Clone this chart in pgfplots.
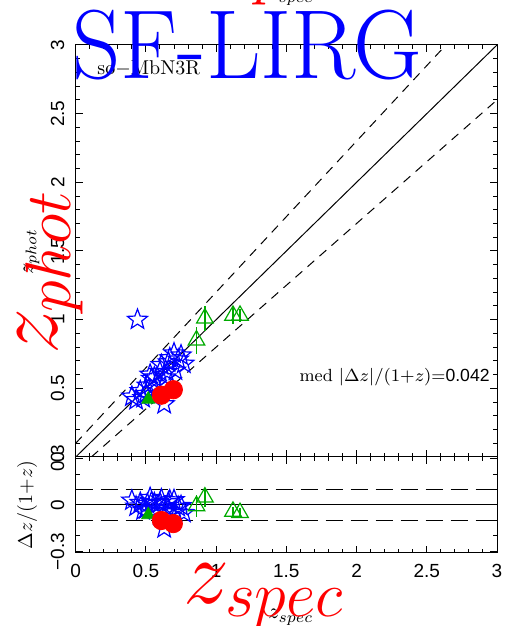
\RequirePackage{fix-cm}
\documentclass[border=0pt]{standalone}
\usepackage{fontspec}
\setsansfont{Liberation Sans}
\usepackage{pgfplots}
\pgfplotsset{compat=1.18}
\usetikzlibrary{plotmarks}
\definecolor{smgreen}{RGB}{0,170,0}
\pgfdeclareplotmark{ostar}{%
  \pgfpathmoveto{\pgfpointpolar{90}{\pgfplotmarksize}}%
  \pgfpathlineto{\pgfpointpolar{126}{0.42\pgfplotmarksize}}%
  \pgfpathlineto{\pgfpointpolar{162}{\pgfplotmarksize}}%
  \pgfpathlineto{\pgfpointpolar{198}{0.42\pgfplotmarksize}}%
  \pgfpathlineto{\pgfpointpolar{234}{\pgfplotmarksize}}%
  \pgfpathlineto{\pgfpointpolar{270}{0.42\pgfplotmarksize}}%
  \pgfpathlineto{\pgfpointpolar{306}{\pgfplotmarksize}}%
  \pgfpathlineto{\pgfpointpolar{342}{0.42\pgfplotmarksize}}%
  \pgfpathlineto{\pgfpointpolar{18}{\pgfplotmarksize}}%
  \pgfpathlineto{\pgfpointpolar{54}{0.42\pgfplotmarksize}}%
  \pgfpathclose\pgfusepathqstroke}
\pgfplotsset{smaxis/.style={scale only axis, width=210.65pt, anchor=south west,
  xmin=0, xmax=3, xtick={0,0.5,1,1.5,2,2.5,3}, minor x tick num=4,
  tick align=inside, xtick pos=both, ytick pos=both,
  major tick length=3.5pt, minor tick length=2pt,
  axis line style={line width=0.5pt},
  every tick/.style={black, line width=0.5pt},
  tick label style={font=\sffamily\fontsize{9.5}{11}\selectfont},
  /pgf/number format/assume math mode=true,
  yticklabel style={rotate=90, anchor=south, inner sep=0pt},
  yticklabel shift=5.5pt,
  xticklabel style={inner sep=0pt},
  xticklabel shift=5.5pt}}

\pgfplotstableread{
x y
0.61 0.67
0.67 0.72
0.73 0.71
0.71 0.63
0.65 0.62
0.77 0.68
0.60 0.62
0.70 0.755
0.56 0.58
0.40 0.44
0.46 0.48
0.43 0.415
0.51 0.52
0.54 0.57
0.48 0.43
0.53 0.60
0.63 0.385
0.66 0.69
0.75 0.74
0.57 0.53
0.44 1.00
0.64 0.58
0.50 0.46
}\starsmain
\pgfplotstableread{
x y
0.61 0.037
0.67 0.030
0.73 -0.012
0.71 -0.047
0.65 -0.018
0.77 -0.051
0.60 0.013
0.70 0.032
0.56 0.013
0.40 0.029
0.46 0.014
0.43 -0.010
0.51 0.007
0.54 0.019
0.48 -0.034
0.53 0.046
0.63 -0.150
0.66 0.018
0.75 -0.006
0.57 -0.025
0.64 -0.037
0.50 -0.027
}\starsres
\pgfplotstableread{
x y e
0.92 1.01 0.09
0.86 0.85 0.10
1.12 1.03 0.06
1.17 1.03 0.05
}\trimain
\pgfplotstableread{
x y e
0.92 0.050 0.06
0.86 -0.006 0.07
1.12 -0.042 0.03
1.17 -0.050 0.03
}\trires

\begin{document}
\begin{tikzpicture}
\useasboundingbox (0,0) rectangle (253pt,313pt);
\clip (0,0) rectangle (253pt,313pt);

\begin{axis}[smaxis, at={(37.85pt,84.5pt)}, height=206pt,
  ymin=0, ymax=3, ytick={0,0.5,1,1.5,2,2.5,3}, minor y tick num=4,
  xticklabels={}, yticklabels={0,0.5,1,1.5,2,2.5,3}]
\addplot[black, line width=0.5pt] coordinates {(0,0) (3,3)};
\addplot[black, line width=0.5pt, dash pattern=on 4.5pt off 3.5pt] coordinates {(0,0.1) (2.6364,3)};
\addplot[black, line width=0.5pt, dash pattern=on 4.5pt off 3.5pt] coordinates {(0.1111,0) (3,2.6)};
\addplot[only marks, mark=ostar, mark size=5.3pt, blue, mark options={line width=0.6pt}] table[x=x,y=y]{\starsmain};
\addplot[only marks, mark=triangle, mark size=4.8pt, smgreen, mark options={line width=0.6pt},
  error bars/.cd, y dir=both, y explicit, error mark=none, error bar style={smgreen, line width=0.6pt}]
  table[x=x,y=y,y error=e]{\trimain};
\addplot[only marks, mark=triangle*, mark size=3.8pt, smgreen] coordinates {(0.517,0.42)};
\addplot[only marks, mark=*, mark size=4.6pt, red] coordinates {(0.61,0.45) (0.695,0.49)};
\end{axis}

\begin{axis}[smaxis, at={(37.85pt,36.5pt)}, height=48pt,
  ymin=-0.31, ymax=0.31, ytick={-0.3,0,0.3}, minor ytick={-0.2,-0.1,0.1,0.2},
  xticklabels={0,0.5,1,1.5,2,2.5,3}, yticklabels={−0.3,0,0.3}]
\addplot[black, line width=0.5pt] coordinates {(0,0) (3,0)};
\addplot[black, line width=0.5pt, dash pattern=on 8.5pt off 4pt] coordinates {(0,0.1) (3,0.1)};
\addplot[black, line width=0.5pt, dash pattern=on 8.5pt off 4pt] coordinates {(0,-0.1) (3,-0.1)};
\addplot[only marks, mark=ostar, mark size=5.3pt, blue, mark options={line width=0.6pt}] table[x=x,y=y]{\starsres};
\addplot[only marks, mark=triangle, mark size=4.8pt, smgreen, mark options={line width=0.6pt},
  error bars/.cd, y dir=both, y explicit, error mark=none, error bar style={smgreen, line width=0.6pt}]
  table[x=x,y=y,y error=e]{\trires};
\addplot[only marks, mark=triangle*, mark size=3.8pt, smgreen] coordinates {(0.517,-0.064)};
\addplot[only marks, mark=*, mark size=4.6pt, red] coordinates {(0.61,-0.10) (0.695,-0.12)};
\end{axis}

% texts
\node[anchor=west, inner sep=0pt, font=\fontsize{10}{12}\selectfont] at (48.5pt,279pt) {so$-$MbN3R};
\node[anchor=east, inner sep=0pt, font=\fontsize{8.8}{11}\selectfont] at (245pt,124.5pt) {med $|\Delta z|/(1{+}z)$=\textsf{0.042}};
\node[rotate=90, inner sep=0pt, font=\fontsize{10}{12}\selectfont] at (13.5pt,60.5pt) {$\Delta z/(1{+}z)$};
% small black labels
\node[anchor=base west, inner sep=0pt, font=\fontsize{11}{13}\selectfont] at (134pt,3.5pt) {$z_{spec}$};
\node[anchor=base west, inner sep=0pt, font=\fontsize{11}{13}\selectfont] at (134pt,313.6pt) {$z_{spec}$};
\node[rotate=90, anchor=base west, inner sep=0pt, font=\fontsize{11}{13}\selectfont] at (16.5pt,175.5pt) {$z_{phot}$};
% big red labels
\node[anchor=base west, inner sep=0pt, red, font=\fontsize{46}{50}\selectfont] at (91.5pt,11.5pt) {$z_{spec}$};
\node[anchor=base west, inner sep=0pt, red, font=\fontsize{46}{50}\selectfont] at (91.5pt,323.5pt) {$z_{spec}$};
\node[rotate=90, anchor=base west, inner sep=0pt, red, font=\fontsize{46}{50}\selectfont] at (28.5pt,135.5pt) {$z_{phot}$};
% title
\node[anchor=base west, inner sep=0pt, blue, font=\fontsize{49}{55}\selectfont] at (36pt,273.5pt) {\scalebox{0.965}[1]{SF-LIRG}};
\end{tikzpicture}
\end{document}
